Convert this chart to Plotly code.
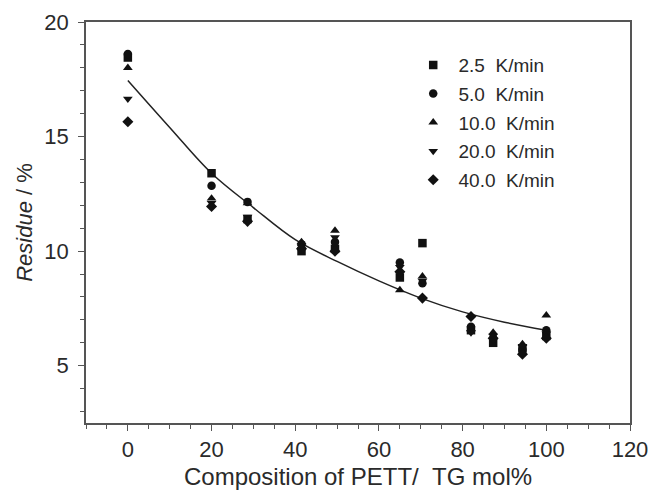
import plotly.graph_objects as go

# Data
names = ["2.5  K/min", "5.0  K/min", "10.0  K/min", "20.0  K/min", "40.0  K/min"]
symbols = ["square", "circle", "triangle-up", "triangle-down", "diamond"]

comp = [0, 20, 28.6, 41.5, 49.5, 65, 70.4, 82, 87.3, 94.3, 100]
r_2_5 = [18.45, 13.4, 11.4, 10.0, 10.1, 8.85, 10.35, 6.55, 6.0, 5.75, 6.3]
r_5_0 = [18.6, 12.85, 12.15, 10.3, 10.4, 9.5, 8.6, 6.7, 6.2, 5.7, 6.55]
r_10_0 = [18.0, 12.3, 12.1, 10.4, 10.9, 8.3, 8.9, 6.6, 6.45, 5.95, 7.2]
r_20_0 = [16.65, 12.1, 11.5, 10.2, 10.6, 9.3, 8.7, 6.45, 6.3, 5.85, 6.4]
r_40_0 = [15.65, 11.95, 11.3, 10.1, 10.0, 9.1, 7.95, 7.15, 6.2, 5.5, 6.2]
series = [r_2_5, r_5_0, r_10_0, r_20_0, r_40_0]

fit_x = [0, 10, 20, 30, 40, 50, 60, 70, 80, 90, 100]
fit_y = [17.45, 15.4, 13.4, 11.9, 10.5, 9.55, 8.7, 7.95, 7.35, 6.9, 6.55]

FONT = "Liberation Sans, Arial"
TXT = "#2a2a2a"

fig = go.Figure()
fig.add_trace(go.Scatter(x=fit_x, y=fit_y, mode="lines", line=dict(color="#222", width=1.5, shape="spline"),
                         showlegend=False))
for i, (n, s, ys) in enumerate(zip(names, symbols, series)):
    fig.add_trace(go.Scatter(x=comp, y=ys, mode="markers", name="\u00a0" + n, legendgroup=f"g{i}",
                             marker=dict(symbol=s, size=8.5, color="#111")))

axis_common = dict(showline=True, linecolor="#555", linewidth=1.6, mirror=True, showgrid=False,
                   zeroline=False, ticks="outside", ticklen=6, tickcolor="#555", tickwidth=1.3,
                   automargin=False,
                   tickfont=dict(size=22, color=TXT, family=FONT))

fig.update_xaxes(range=[-10, 120], tick0=0, dtick=20, ticklabelstandoff=0,
                 minor=dict(ticks="outside", dtick=5, tick0=0, ticklen=4, tickcolor="#555", tickwidth=1.2),
                 title=dict(text="Composition of PETT/\u00a0\u00a0TG mol%", standoff=10,
                            font=dict(size=24, color=TXT, family=FONT)),
                 **axis_common)
fig.update_yaxes(range=[2.5, 20], tick0=0, dtick=5, ticklabelstandoff=5,
                 minor=dict(ticks="outside", dtick=1, tick0=0, ticklen=4, tickcolor="#555", tickwidth=1.2),
                 title=dict(text="<i>Residue</i> / %", standoff=6,
                            font=dict(size=22, color=TXT, family=FONT)),
                 **axis_common)

fig.update_layout(width=650, height=490, margin=dict(l=86, r=20, t=22, b=67),
                  plot_bgcolor="white", paper_bgcolor="white",
                  legend=dict(x=0.6015, y=0.94, xanchor="left", yanchor="top", bgcolor="rgba(0,0,0,0)",
                              font=dict(size=19, color=TXT, family=FONT),
                              tracegroupgap=1),
                  )
fig.write_html("out.html")
